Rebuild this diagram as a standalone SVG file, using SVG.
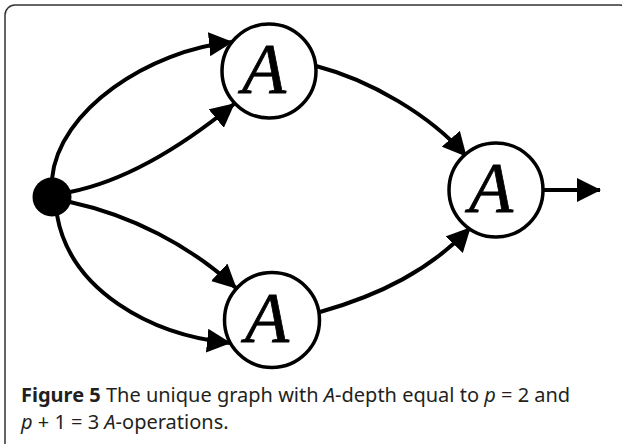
<svg xmlns="http://www.w3.org/2000/svg" width="622" height="444" viewBox="0 0 622 444">
<defs>
<style>
.node{fill:#fff;stroke:#000;stroke-width:3.5}
.lbl{font-family:"Liberation Serif",serif;font-style:italic;font-size:72px;text-anchor:middle;fill:#000;stroke:#000;stroke-width:0.8}
.edge{fill:none;stroke:#000;stroke-width:4;marker-end:url(#ah)}
.cap{font-family:"Noto Sans","Open Sans",sans-serif;font-size:20px;fill:#231f20}
</style>
<marker id="ah" markerUnits="userSpaceOnUse" markerWidth="26" markerHeight="24" refX="23" refY="12" orient="auto">
<path d="M0,0 L24,12 L0,24 z" fill="#000"/>
</marker>
</defs>
<rect x="5" y="5" width="625" height="450" rx="10" fill="#fff" stroke="#333" stroke-width="1.5"/>
<g id="connectors">
<path class="edge" d="M52,179 C58,110 150,50 232,42"/>
<path class="edge" d="M70,192 C130,180 190,140 234,104"/>
<path class="edge" d="M70,202 C130,215 190,245 236,288"/>
<path class="edge" d="M57,215 C70,290 150,335 230,343"/>
<path class="edge" d="M316,66 C370,80 430,115 466,156"/>
<path class="edge" d="M320,312 C380,295 430,270 470,228"/>
<path class="edge" d="M543,190 L600,190"/>
</g>
<g id="source"><circle cx="52" cy="197" r="19.5" fill="#000"/></g>
<g id="A_top"><circle class="node" cx="269" cy="71" r="47"/><text class="lbl" x="264" y="93">A</text></g>
<g id="A_bottom"><circle class="node" cx="272" cy="320" r="47.5"/><text class="lbl" x="267" y="342">A</text></g>
<g id="A_right"><circle class="node" cx="496" cy="190" r="47"/><text class="lbl" x="491" y="212">A</text></g>
<g id="caption">
<text class="cap" x="21" y="402"><tspan font-weight="bold">Figure 5</tspan> The unique graph with <tspan font-style="italic">A</tspan>-depth equal to <tspan font-style="italic">p</tspan> = 2 and</text>
<text class="cap" x="21" y="429"><tspan font-style="italic">p</tspan> + 1 = 3 <tspan font-style="italic">A</tspan>-operations.</text>
</g>
</svg>
